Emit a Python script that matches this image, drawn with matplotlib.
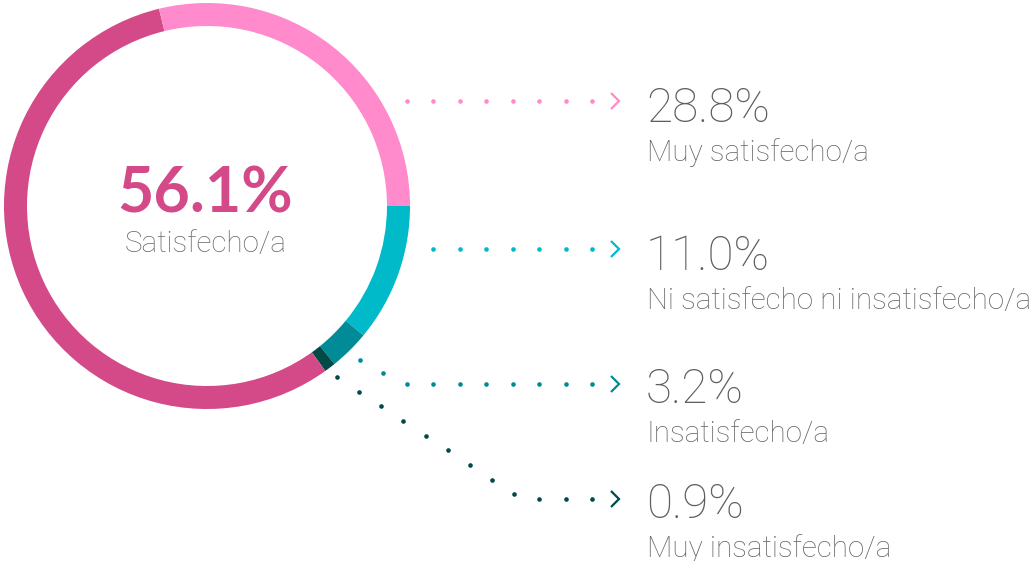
import numpy as np
import matplotlib
matplotlib.use("Agg")
import matplotlib.pyplot as plt

# Satisfaction shares (%) in drawing order, clockwise from 3 o'clock
categories = ["Ni satisfecho ni insatisfecho/a", "Insatisfecho/a",
              "Muy insatisfecho/a", "Satisfecho/a", "Muy satisfecho/a"]
values = [11.0, 3.2, 0.9, 56.1, 28.8]
colors = ["#00B9C9", "#008B96", "#004B47", "#D44987", "#FF8ACC"]

# Callouts on the right (top to bottom) and the headline in the centre
callout_order = ["Muy satisfecho/a", "Ni satisfecho ni insatisfecho/a",
                 "Insatisfecho/a", "Muy insatisfecho/a"]
headline = "Satisfecho/a"

W, H = 1035, 561
CX, CY, R, RING = 207, 206, 203, 23
FONT = "Roboto"
BOLD_FONT = "Lato"
TEXT_GREY = "#5e5e5e"

fig = plt.figure(figsize=(W / 100, H / 100), dpi=100)
ax = fig.add_axes([0, 0, 1, 1])

ax.pie(values, colors=colors, startangle=0, counterclock=True, radius=R,
       center=(CX, CY), frame=True,
       wedgeprops=dict(width=RING, linewidth=0, antialiased=True))
ax.set_xlim(0, W)
ax.set_ylim(H, 0)          # pixel-style coordinates, y grows downward
ax.set_aspect("equal")
ax.axis("off")

# angles on screen (degrees, clockwise from 3 o'clock)
edges = np.concatenate([[0], np.cumsum(values)]) / sum(values) * 360
mids = dict(zip(categories, (edges[:-1] + edges[1:]) / 2))
cmap = dict(zip(categories, colors))
vmap = dict(zip(categories, values))


def polar(theta_deg, r):
    t = np.deg2rad(theta_deg)
    return CX + r * np.cos(t), CY + r * np.sin(t)


# connector layout: line height, and optional elbow x for diagonal leaders
line_y = {"Muy satisfecho/a": 101, "Ni satisfecho ni insatisfecho/a": 249,
          "Insatisfecho/a": 384, "Muy insatisfecho/a": 499}
elbow_x = {"Insatisfecho/a": 402, "Muy insatisfecho/a": 521}
X_END, GAP, STEP = 592, 24, 26.5


def dots_along(points, step):
    pts = np.asarray(points, float)[::-1]      # walk back from the arrow
    seg = np.diff(pts, axis=0)
    lens = np.hypot(seg[:, 0], seg[:, 1])
    cum = np.concatenate([[0], np.cumsum(lens)])
    d = np.arange(0, cum[-1] + 1e-6, step)
    xs = np.interp(d, cum, pts[:, 0])
    ys = np.interp(d, cum, pts[:, 1])
    return xs, ys


for name in callout_order:
    y = line_y[name]
    if name in elbow_x:
        start = polar(mids[name], R + 12)
        path = [start, (elbow_x[name], y), (X_END, y)]
    else:
        x0 = CX + np.sqrt(R ** 2 - (y - CY) ** 2) + GAP
        path = [(x0, y), (X_END, y)]
    xs, ys = dots_along(path, STEP)
    ax.scatter(xs, ys, s=11, color=cmap[name], linewidths=0, zorder=3)
    ax.plot([611, 619, 611], [y - 8, y, y + 8], color=cmap[name], lw=1.6,
            solid_joinstyle="miter", solid_capstyle="butt")

# text
pct_texts, lab_texts = [], []
for name in callout_order:
    y = line_y[name]
    off = 21 if y < 300 else 19
    pct_texts.append(ax.text(646, y + off, f"{vmap[name]:.1f}%", ha="left",
                             va="baseline", color=TEXT_GREY, fontsize=33,
                             family=FONT, fontweight="light"))
    lab_texts.append(ax.text(647, y + off + 39, name, ha="left",
                             va="baseline", color="#666666", fontsize=21,
                             family=FONT, fontweight="light"))

big = ax.text(CX - 2, 212, f"{vmap[headline]:.1f}%", ha="center",
              va="baseline", color=colors[3], fontsize=41, family=BOLD_FONT,
              fontweight="bold")
sub = ax.text(CX - 1, 252, headline, ha="center", va="baseline",
              color="#6b6b6b", fontsize=21, family=FONT, fontweight="light")


def fit(texts, ref, target_px):
    fig.canvas.draw()
    rend = fig.canvas.get_renderer()
    w = ref.get_window_extent(rend).width
    size = ref.get_fontsize() * target_px / w
    for t in texts:
        t.set_fontsize(size)


fit(pct_texts, pct_texts[0], 124)
fit(lab_texts + [sub], lab_texts[1], 384)
fit([big], big, 176)

fig.savefig("out.png", dpi=100, facecolor="white")
